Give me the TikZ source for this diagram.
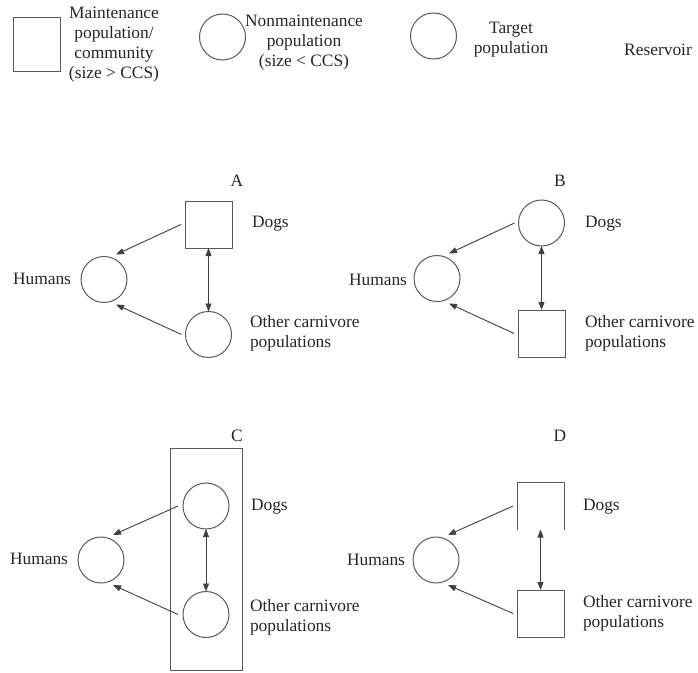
\documentclass[tikz,border=0pt]{standalone}
\usepackage{fontspec}
\setmainfont{Liberation Serif}
\usetikzlibrary{arrows.meta,calc}
\begin{document}
\begin{tikzpicture}[x=1pt,y=-1pt,
  every node/.style={inner sep=0pt, outer sep=0pt,
    font=\fontsize{17.4}{20}\selectfont, text=black!85},
  pop/.style={circle, draw=black!65, line width=1pt, minimum size=46pt},
  maint/.style={rectangle, draw=black!65, line width=1pt,
    minimum width=47pt, minimum height=47pt},
  hidebox/.style={rectangle, minimum width=47pt, minimum height=47pt},
  lbl/.style={align=left, anchor=west},
  arr/.style={draw=black!75, line width=0.9pt, -{Triangle[length=8pt,width=6pt]}},
  darr/.style={draw=black!75, line width=0.9pt,
    {Triangle[length=8pt,width=6pt]}-{Triangle[length=8pt,width=6pt]}}]
\useasboundingbox (0,0) rectangle (698,672);

% ---- key ----
\node[maint, minimum height=54pt] (kM) at (36.5,44) {};
\node[align=center] (tM) at (114,45) {Maintenance\\population/\\community\\(size > CCS)};
\node[pop] (kN) at (222.5,37) {};
\node[align=center] (tN) at (304,42.5) {Nonmaintenance\\population\\(size < CCS)};
\node[pop] (kT) at (433.5,36) {};
\node[align=center] (tT) at (511,40) {Target\\population};
\node (tR) at (658,50) {Reservoir};

% ---- A ----
\node (labA) at (237,181) {A};
\node[maint] (dA) at (208.5,224.5) {};
\node[pop] (hA) at (104,279.5) {};
\node[pop] (oA) at (208.5,334.5) {};
\node[anchor=east] (tHA) at (71,279) {Humans};
\node[anchor=west] (tDA) at (252,224) {Dogs};
\node[lbl] (tOA) at (250,333) {Other carnivore\\populations};
\draw[arr] ([xshift=-4pt]dA.west) -- ($(hA)+(12,-25)$);
\draw[arr] ([xshift=-4pt]oA.west) -- ($(hA)+(12,25)$);
\draw[darr] (dA.south) -- (oA.north);

% ---- B ----
\node (labB) at (560,181) {B};
\node[pop] (dB) at (541.5,223) {};
\node[pop] (hB) at (437,278.5) {};
\node[maint] (oB) at (541.5,333.5) {};
\node[anchor=east] (tHB) at (407,280) {Humans};
\node[anchor=west] (tDB) at (585,224) {Dogs};
\node[lbl] (tOB) at (585,333) {Other carnivore\\populations};
\draw[arr] ([xshift=-4pt]dB.west) -- ($(hB)+(12,-25)$);
\draw[arr] ([xshift=-4pt]oB.west) -- ($(hB)+(12,25)$);
\draw[darr] (dB.south) -- (oB.north);

% ---- C ----
\node (labC) at (237,436) {C};
\node[draw=black!65, line width=1pt, minimum width=72pt, minimum height=222pt] (resC) at (206,559) {};
\node[pop] (dC) at (206,506) {};
\node[pop] (hC) at (101,560) {};
\node[pop] (oC) at (206,614.5) {};
\node[anchor=east] (tHC) at (68,559) {Humans};
\node[anchor=west] (tDC) at (251,507) {Dogs};
\node[lbl] (tOC) at (250,617) {Other carnivore\\populations};
\draw[arr] ([xshift=-5pt]dC.west) -- ($(hC)+(12,-25)$);
\draw[arr] ([xshift=-5pt]oC.west) -- ($(hC)+(12,25)$);
\draw[darr] (dC.south) -- (oC.north);

% ---- D ----
\node (labD) at (560,436) {D};
\node[hidebox] (dD) at (540.5,506) {};
\draw[draw=black!65, line width=1pt] (dD.south west) -- (dD.north west) -- (dD.north east) -- (dD.south east);
\node[pop] (hD) at (436,560) {};
\node[maint] (oD) at (540.5,613.5) {};
\node[anchor=east] (tHD) at (405,560) {Humans};
\node[anchor=west] (tDD) at (583,507) {Dogs};
\node[lbl] (tOD) at (583,613) {Other carnivore\\populations};
\draw[arr] ([xshift=-4pt]dD.west) -- ($(hD)+(12,-25)$);
\draw[arr] ([xshift=-4pt]oD.west) -- ($(hD)+(12,25)$);
\draw[darr] (dD.south) -- (oD.north);
\end{tikzpicture}
\end{document}
